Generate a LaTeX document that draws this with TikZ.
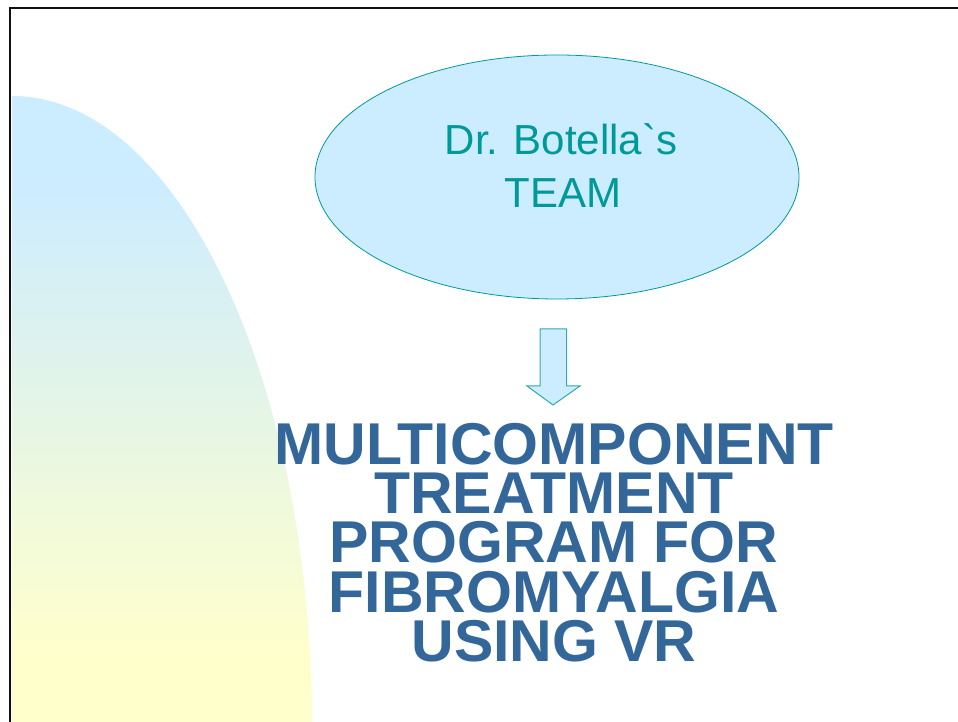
\documentclass[tikz,border=0pt]{standalone}
\usepackage{fontspec}
\setmainfont{Liberation Sans}
\newfontfamily\teamfont{Liberation Sans}[Ligatures=TeXOff]
\usetikzlibrary{shapes.geometric,calc}
\definecolor{paleblue}{HTML}{CCECFF}
\definecolor{paleyellow}{HTML}{FFFFCC}
\definecolor{teamteal}{HTML}{009999}
\definecolor{arrowteal}{HTML}{33AAAA}
\definecolor{titleblue}{HTML}{336699}
\definecolor{frame}{HTML}{111111}
\tikzset{
  teamtext/.style={anchor=base, text=teamteal, inner sep=0pt,
    font=\teamfont\fontsize{42}{42}\selectfont},
  titleline/.style={anchor=base, text=titleblue, inner sep=0pt,
    font=\bfseries\fontsize{59}{59}\selectfont},
  blockarrow/.style={fill=paleblue, draw=arrowteal, line width=1pt, line join=miter}
}
\begin{document}
\begin{tikzpicture}[x=1pt, y=1pt]
  \useasboundingbox (0,0) rectangle (958,722);
  \fill[white] (0,0) rectangle (958,722);

  % shaded backdrop: quarter of an ellipse at the left edge,
  % blue at the top fading to pale yellow near the bottom
  \begin{scope}
    \clip (12,626) arc[start angle=90, end angle=0, x radius=300, y radius=632]
      -- (12,-6) -- cycle;
    \fill[paleblue] (0,540) rectangle (330,722);
    \shade[top color=paleblue, bottom color=paleyellow] (0,70) rectangle (330,540);
    \fill[paleyellow] (0,0) rectangle (330,70);
  \end{scope}

  % frame lines along the top and left edges
  \draw[frame, line width=2.2pt] (10.3,0) -- (10.3,713.7) -- (958,713.7);

  % team ellipse
  \node[ellipse, draw=teamteal, line width=0.8pt, fill=paleblue,
        minimum width=484pt, minimum height=244pt, inner sep=0pt] (team) at (557,545) {};
  \node[teamtext] (teamA) at (561,567) {Dr. Botella`s};
  \node[teamtext] (teamB) at (563,514) {TEAM};

  % block arrow pointing down to the title
  \coordinate (tip) at (553,317);
  \path[blockarrow]
    ($(tip)+(-13,76)$) coordinate (shaftTL)
    -- ($(tip)+(13.7,76)$) coordinate (shaftTR)
    -- ($(tip)+(13.7,19)$)
    -- ($(tip)+(27,19)$)
    -- (tip)
    -- ($(tip)+(-26,19)$)
    -- ($(tip)+(-13,19)$)
    -- cycle;

  % title
  \node[titleline] (t1) at (554,257) {MULTICOMPONENT};
  \node[titleline] (t2) at (554,208) {TREATMENT};
  \node[titleline] (t3) at (554,159) {PROGRAM FOR};
  \node[titleline] (t4) at (554,109) {FIBROMYALGIA};
  \node[titleline] (t5) at (554,60) {USING VR};
\end{tikzpicture}
\end{document}
